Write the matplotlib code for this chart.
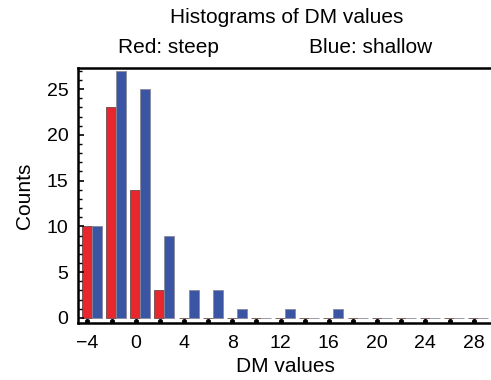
import matplotlib
matplotlib.use('Agg')
import matplotlib.pyplot as plt
import numpy as np

plt.rcParams['font.family'] = ['Liberation Sans', 'DejaVu Sans']

bins = [-4, -2, 0, 2, 4, 6, 8, 10, 12, 14, 16, 18, 20, 22, 24, 26, 28]
steep = [10, 23, 14, 3, 0, 0, 0, 0, 0, 0, 0, 0, 0, 0, 0, 0, 0]
shallow = [10, 27, 25, 9, 3, 3, 1, 0, 1, 0, 1, 0, 0, 0, 0, 0, 0]
xticks = [-4, 0, 4, 8, 12, 16, 20, 24, 28]

red = '#e8262e'
blue = '#3a55a4'

fig = plt.figure(figsize=(4.91, 3.80), dpi=100)
ax = fig.add_axes([0.159, 0.150, 0.845, 0.671])

x = np.array(bins)
w = 0.83
ax.bar(x - 0.035, steep, width=w, color=red, edgecolor='#6b4a4a', linewidth=0.6)
ax.bar(x + 0.795, shallow, width=w, color=blue, edgecolor='#8a8a9a', linewidth=0.6)

# dots marking the bins along the bottom
ax.plot(x, np.full(len(x), -0.3), 'o', color='black', markersize=2.6, clip_on=False, zorder=5)

ax.set_xlim(-4.78, 29.6)
ax.set_ylim(-0.55, 27.3)
ax.set_xticks(xticks)
ax.set_xticklabels(['\u22124'] + [str(t) for t in xticks[1:]])
ax.set_yticks([0, 5, 10, 15, 20, 25])
ax.set_yticks(np.arange(0, 28, 1), minor=True)
ax.tick_params(axis='x', length=0, labelsize=14, pad=9)
ax.tick_params(axis='y', which='major', direction='in', length=4.5, width=1.2, labelsize=14, pad=7)
ax.tick_params(axis='y', which='minor', direction='in', length=3, width=1.0)

for s in ['left', 'bottom', 'top']:
    ax.spines[s].set_linewidth(1.8)
ax.spines['right'].set_visible(False)

ax.set_xlabel('DM values', fontsize=15, labelpad=3)
ax.set_ylabel('Counts', fontsize=15, labelpad=9)

fig.text(0.584, 0.955, 'Histograms of DM values', fontsize=15, ha='center', va='center')
fig.text(0.344, 0.876, 'Red: steep', fontsize=15, ha='center', va='center')
fig.text(0.754, 0.876, 'Blue: shallow', fontsize=15, ha='center', va='center')

fig.savefig('out.png', dpi=100)
